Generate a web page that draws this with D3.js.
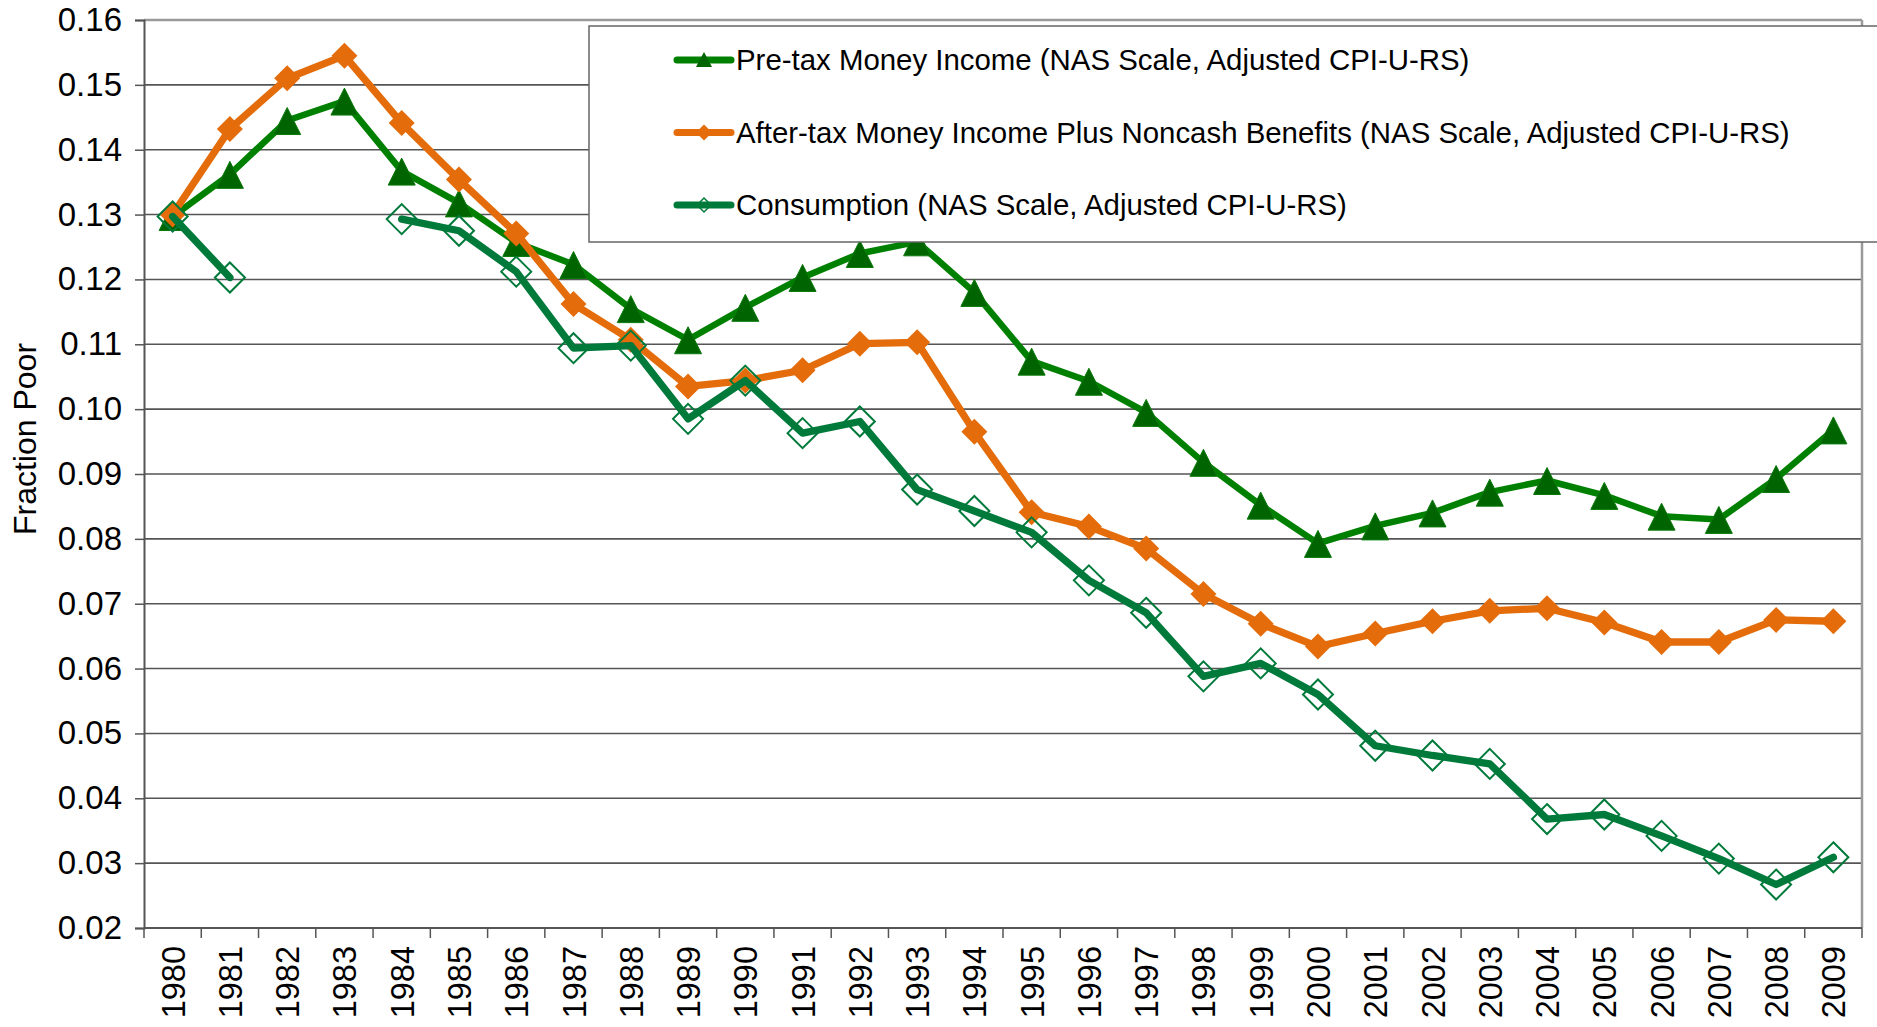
<!DOCTYPE html>
<meta charset="utf-8">
<script src="https://d3js.org/d3.v7.min.js"></script>
<style>
body { margin: 0; background: #fff; }
text { font-family: "Liberation Sans", Arial, sans-serif; fill: #000; }
</style>
<body>
<div id="my_dataviz"></div>
<script>

// years on the x axis
var years = [1980, 1981, 1982, 1983, 1984, 1985, 1986, 1987, 1988, 1989,
             1990, 1991, 1992, 1993, 1994, 1995, 1996, 1997, 1998, 1999,
             2000, 2001, 2002, 2003, 2004, 2005, 2006, 2007, 2008, 2009];

// Pre-tax Money Income (NAS Scale, Adjusted CPI-U-RS)
var pretax = [0.1297, 0.1362, 0.1445, 0.1475, 0.1367, 0.1318, 0.1257, 0.1223, 0.1155, 0.1107,
              0.1157, 0.1203, 0.1240, 0.1258, 0.1180, 0.1074, 0.1043, 0.0995, 0.0918, 0.0852,
              0.0793, 0.0820, 0.0840, 0.0872, 0.0890, 0.0867, 0.0835, 0.0830, 0.0893, 0.0968];

// After-tax Money Income Plus Noncash Benefits
var aftertax = [0.1300, 0.1432, 0.1510, 0.1545, 0.1441, 0.1354, 0.1271, 0.1162, 0.1107, 0.1035,
                0.1044, 0.1060, 0.1101, 0.1103, 0.0965, 0.0841, 0.0819, 0.0785, 0.0715, 0.0669,
                0.0634, 0.0654, 0.0673, 0.0689, 0.0693, 0.0671, 0.0641, 0.0641, 0.0675, 0.0673];

// Consumption (no values for 1982 and 1983)
var consumption = [0.1297, 0.1203, null, null, 0.1293, 0.1275, 0.1212, 0.1094, 0.1098, 0.0985,
                   0.1044, 0.0963, 0.0981, 0.0876, 0.0843, 0.0810, 0.0736, 0.0686, 0.0588, 0.0608,
                   0.0560, 0.0481, 0.0466, 0.0453, 0.0368, 0.0375, 0.0342, 0.0307, 0.0267, 0.0309];

var yTicks = [0.02, 0.03, 0.04, 0.05, 0.06, 0.07, 0.08, 0.09, 0.10, 0.11, 0.12, 0.13, 0.14, 0.15, 0.16];

var legendLabels = ["Pre-tax Money Income (NAS Scale, Adjusted CPI-U-RS)",
                    "After-tax Money Income Plus Noncash Benefits (NAS Scale, Adjusted CPI-U-RS)",
                    "Consumption (NAS Scale, Adjusted CPI-U-RS)"];

var W = 1877, H = 1027;
var margin = {top: 20, right: 15, bottom: 99, left: 144},
    width = W - margin.left - margin.right,
    height = H - margin.top - margin.bottom;

var svg = d3.select("#my_dataviz")
  .append("svg")
    .attr("width", W)
    .attr("height", H)
  .append("g")
    .attr("transform", "translate(" + margin.left + "," + margin.top + ")");

var x = d3.scaleBand()
  .domain(years)
  .range([0, width])
  .padding(0);

var y = d3.scaleLinear()
  .domain([0.02, 0.16])
  .range([height, 0]);

var cx = function(i) { return x(years[i]) + x.bandwidth() / 2; };

// gridlines
svg.append("g")
  .selectAll("line")
  .data(yTicks)
  .enter().append("line")
    .attr("x1", 0).attr("x2", width)
    .attr("y1", function(d) { return y(d); })
    .attr("y2", function(d) { return y(d); })
    .attr("stroke", function(d) { return d == 0.16 ? "#9a9a9a" : "#555"; })
    .attr("stroke-width", function(d) { return d == 0.16 ? 2.5 : 1.6; });

// right border of the plot
svg.append("line")
  .attr("x1", width).attr("x2", width)
  .attr("y1", 0).attr("y2", height)
  .attr("stroke", "#9a9a9a").attr("stroke-width", 2.5);

// y axis
var yAxis = svg.append("g")
  .call(d3.axisLeft(y).tickValues(yTicks).tickSize(9).tickPadding(13)
        .tickFormat(d3.format(".2f")));
yAxis.select(".domain").attr("stroke", "#555").attr("stroke-width", 2);
yAxis.selectAll(".tick line").attr("stroke", "#555").attr("stroke-width", 1.5);
yAxis.selectAll("text")
  .style("font-size", "33px")
  .attr("fill", "#000");

// x axis, ticks on the band edges
var xAxis = svg.append("g")
  .attr("transform", "translate(0," + height + ")");
xAxis.append("line")
  .attr("x1", 0).attr("x2", width)
  .attr("stroke", "#555").attr("stroke-width", 2);
xAxis.selectAll(".edge")
  .data(years.concat(["end"]))
  .enter().append("line")
    .attr("class", "edge")
    .attr("x1", function(d, i) { return i < years.length ? x(d) : width; })
    .attr("x2", function(d, i) { return i < years.length ? x(d) : width; })
    .attr("y1", 0).attr("y2", 10)
    .attr("stroke", "#555").attr("stroke-width", 1.5);
xAxis.selectAll(".lbl")
  .data(years)
  .enter().append("text")
    .attr("class", "lbl")
    .attr("transform", function(d) {
      return "translate(" + (x(d) + x.bandwidth() / 2 + 12) + ",18) rotate(-90)"; })
    .attr("text-anchor", "end")
    .style("font-size", "32.5px")
    .text(function(d) { return d; });

// y title
svg.append("text")
  .attr("transform", "translate(" + (-108) + ",419) rotate(-90)")
  .attr("text-anchor", "middle")
  .style("font-size", "32px")
  .text("Fraction Poor");

var line = d3.line()
  .defined(function(d) { return d != null; })
  .x(function(d, i) { return cx(i); })
  .y(function(d) { return y(d); });

var triangle = "M0,-13L13.5,14L-13.5,14Z";
var diamond = function(r) {
  return "M0," + (-r) + "L" + r + ",0L0," + r + "L" + (-r) + ",0Z";
};

// pre-tax
svg.append("path")
  .datum(pretax)
  .attr("d", line)
  .attr("fill", "none")
  .attr("stroke", "#008000")
  .attr("stroke-width", 6.5)
  .attr("stroke-linejoin", "round");
svg.selectAll(".tri")
  .data(pretax)
  .enter().append("path")
    .attr("class", "tri")
    .attr("d", triangle)
    .attr("transform", function(d, i) { return "translate(" + cx(i) + "," + y(d) + ")"; })
    .attr("fill", "#006400")
    .attr("stroke", "#0a7a0a")
    .attr("stroke-width", 1);

// after-tax
svg.append("path")
  .datum(aftertax)
  .attr("d", line)
  .attr("fill", "none")
  .attr("stroke", "#E46C0A")
  .attr("stroke-width", 7.3)
  .attr("stroke-linejoin", "round");
svg.selectAll(".dia")
  .data(aftertax)
  .enter().append("path")
    .attr("class", "dia")
    .attr("d", diamond(13))
    .attr("transform", function(d, i) { return "translate(" + cx(i) + "," + y(d) + ")"; })
    .attr("fill", "#E46C0A");

// consumption
svg.append("path")
  .datum(consumption)
  .attr("d", line)
  .attr("fill", "none")
  .attr("stroke", "#007A3A")
  .attr("stroke-width", 7.3)
  .attr("stroke-linejoin", "round")
  .attr("stroke-linecap", "round");
svg.selectAll(".odia")
  .data(consumption.map(function(d, i) { return {v: d, i: i}; })
          .filter(function(d) { return d.v != null; }))
  .enter().append("path")
    .attr("class", "odia")
    .attr("d", diamond(15))
    .attr("transform", function(d) { return "translate(" + cx(d.i) + "," + y(d.v) + ")"; })
    .attr("fill", "none")
    .attr("stroke", "#007A3A")
    .attr("stroke-width", 2);

// legend box, runs off the right edge
var legend = d3.select("svg").append("g")
  .attr("transform", "translate(589,26)");
legend.append("rect")
  .attr("width", 1400)
  .attr("height", 216)
  .attr("fill", "#fff")
  .attr("stroke", "#666")
  .attr("stroke-width", 1.5);

var legendColors = ["#008000", "#E46C0A", "#007A3A"];
var rows = legend.selectAll(".row")
  .data(legendLabels)
  .enter().append("g")
    .attr("class", "row")
    .attr("transform", function(d, i) { return "translate(0," + (34 + i * 72.5) + ")"; });
rows.append("line")
  .attr("x1", 88).attr("x2", 142)
  .attr("stroke", function(d, i) { return legendColors[i]; })
  .attr("stroke-width", 7)
  .attr("stroke-linecap", "round");
rows.append("path")
  .attr("d", function(d, i) {
    return i == 0 ? "M0,-8L8,7L-8,7Z" : diamond(i == 1 ? 8 : 7);
  })
  .attr("transform", "translate(115,0)")
  .attr("fill", function(d, i) { return i == 0 ? "#006400" : i == 1 ? "#E46C0A" : "none"; })
  .attr("stroke", function(d, i) { return i == 2 ? "#007A3A" : "none"; })
  .attr("stroke-width", 1.5);
rows.append("text")
  .attr("x", 147)
  .attr("dy", "0.35em")
  .style("font-size", "29.4px")
  .text(function(d) { return d; });

</script>
</body>
